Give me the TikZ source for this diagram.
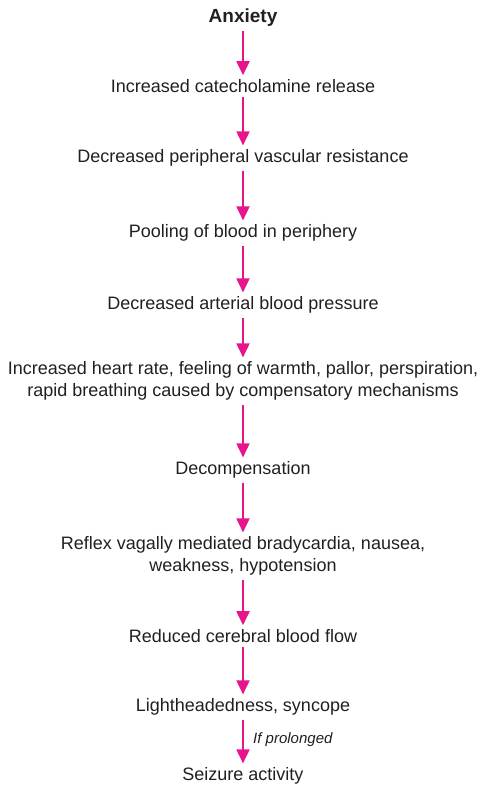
\documentclass[tikz,border=0pt]{standalone}
\usepackage{fontspec}
\setmainfont{Liberation Sans}
\usetikzlibrary{arrows.meta, positioning}
\definecolor{flowpink}{RGB}{232,20,140}
\definecolor{inkgray}{RGB}{35,30,35}
\tikzstyle{step box} = [align=center, inner sep=4pt, text=inkgray, font=\fontsize{18}{22}\selectfont]
\tikzstyle{arrow} = [flowpink, line width=1.8pt, -{Triangle[length=14pt, width=13pt]}]

\begin{document}
\begin{tikzpicture}[x=1pt, y=-1pt]
  \useasboundingbox (0,0) rectangle (482,789);
  \node (anx)    [step box, font=\fontsize{19}{22}\selectfont\bfseries] at (243,18) {Anxiety};
  \node (cat)    [step box] at (243,86)  {Increased catecholamine release};
  \node (pvr)    [step box] at (243,158) {Decreased peripheral vascular resistance};
  \node (pool)   [step box] at (243,233) {Pooling of blood in periphery};
  \node (abp)    [step box] at (243,305) {Decreased arterial blood pressure};
  \node (comp)   [step box] at (243,381) {Increased heart rate, feeling of warmth, pallor, perspiration,\\
                                          rapid breathing caused by compensatory mechanisms};
  \node (decomp) [step box] at (243,470) {Decompensation};
  \node (vagal)  [step box] at (243,556) {Reflex vagally mediated bradycardia, nausea,\\ weakness, hypotension};
  \node (cbf)    [step box] at (243,636) {Reduced cerebral blood flow};
  \node (light)  [step box] at (243,707) {Lightheadedness, syncope};
  \node (seiz)   [step box] at (243,776) {Seizure activity};

  \draw[arrow] (anx)    -- (cat);
  \draw[arrow] (cat)    -- (pvr);
  \draw[arrow] (pvr)    -- (pool);
  \draw[arrow] (pool)   -- (abp);
  \draw[arrow] (abp)    -- (comp);
  \draw[arrow] (comp)   -- (decomp);
  \draw[arrow] (decomp) -- (vagal);
  \draw[arrow] (vagal)  -- (cbf);
  \draw[arrow] (cbf)    -- (light);
  \draw[arrow] (light)  -- node[right=6pt, text=inkgray, font=\fontsize{15}{17}\selectfont\itshape, pos=0.45] {If prolonged} (seiz);
\end{tikzpicture}
\end{document}
